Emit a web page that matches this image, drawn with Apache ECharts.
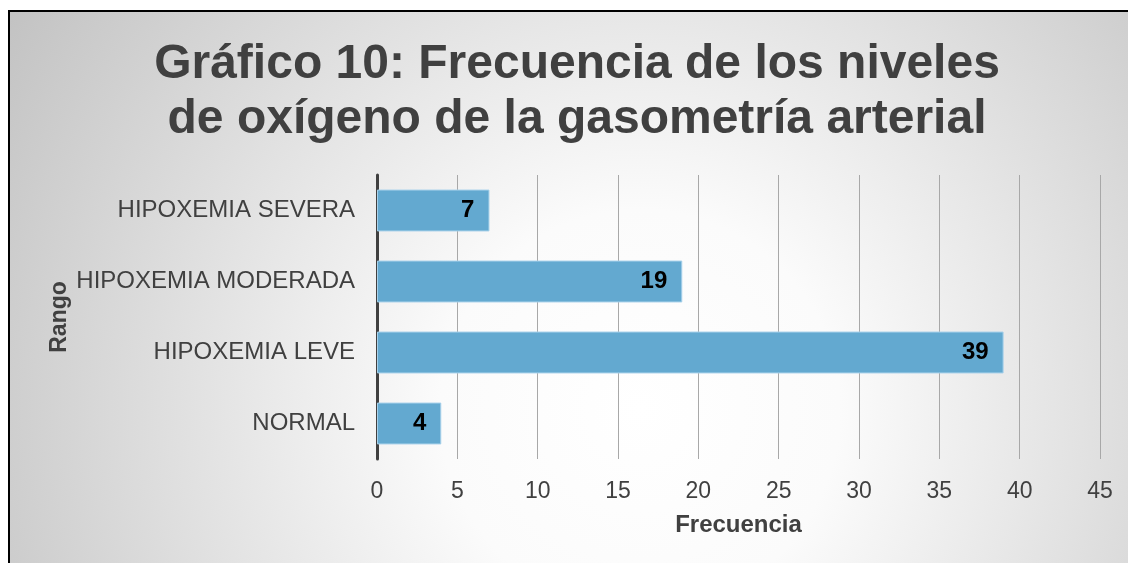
<!DOCTYPE html>
<html><head><meta charset="utf-8">
<script src="https://cdn.jsdelivr.net/npm/echarts@6/dist/echarts.min.js"></script>
<style>html,body{margin:0;padding:0;background:#fff;}#c{width:1128px;height:563px;}</style>
</head><body><div id="c"></div>
<script>
const categories = ['NORMAL', 'HIPOXEMIA LEVE', 'HIPOXEMIA MODERADA', 'HIPOXEMIA SEVERA'];
const values = [4, 39, 19, 7];
const titleText = 'Gráfico 10: Frecuencia de los niveles\nde oxígeno de la gasometría arterial';
const xName = 'Frecuencia';
const yName = 'Rango';
const FONT = '"Liberation Sans", Arial, sans-serif';

const bg = new echarts.graphic.RadialGradient(640, 410, 800, [
  {offset: 0, color: '#ffffff'},
  {offset: 0.25, color: '#fbfbfb'},
  {offset: 1, color: '#bdbdbd'}
], true);

const chart = echarts.init(document.getElementById('c'));
chart.setOption({
  animation: false,
  backgroundColor: '#ffffff',
  graphic: [{
    type: 'rect', z: -10, silent: true,
    shape: {x: 9, y: 11, width: 1130, height: 560},
    style: {fill: bg, stroke: '#000', lineWidth: 2}
  }],
  title: {
    text: titleText, left: 572, top: 32, textAlign: 'center',
    textStyle: {fontFamily: FONT, fontSize: 48, fontWeight: 'bold', color: '#404040', lineHeight: 55}
  },
  grid: {left: 377, right: 28, top: 175, bottom: 104, containLabel: false},
  xAxis: {
    type: 'value', min: 0, max: 45, interval: 5,
    name: xName, nameLocation: 'middle', nameGap: 54, nameMoveOverlap: false,
    nameTextStyle: {fontFamily: FONT, fontSize: 24, fontWeight: 'bold', color: '#404040'},
    axisLine: {show: false}, axisTick: {show: false},
    axisLabel: {fontFamily: FONT, fontSize: 23, color: '#404040', margin: 21},
    splitLine: {show: true, lineStyle: {color: '#a8a8a8', width: 1}}
  },
  yAxis: {
    type: 'category', data: categories,
    name: yName, nameLocation: 'middle', nameGap: 306, nameRotate: 90, nameMoveOverlap: false,
    nameTextStyle: {fontFamily: FONT, fontSize: 23, fontWeight: 'bold', color: '#404040'},
    axisLine: {show: true, lineStyle: {color: '#404040', width: 3}},
    axisTick: {show: false},
    axisLabel: {fontFamily: FONT, fontSize: 24, color: '#404040', margin: 22}
  },
  series: [{
    type: 'bar', data: values, barCategoryGap: '41%',
    itemStyle: {color: '#63a9d0', borderColor: '#a6d0ea', borderWidth: 1},
    label: {show: true, position: 'insideRight', distance: 15,
      fontFamily: FONT, fontSize: 24, fontWeight: 'bold', color: '#000'}
  }]
});
</script></body></html>
